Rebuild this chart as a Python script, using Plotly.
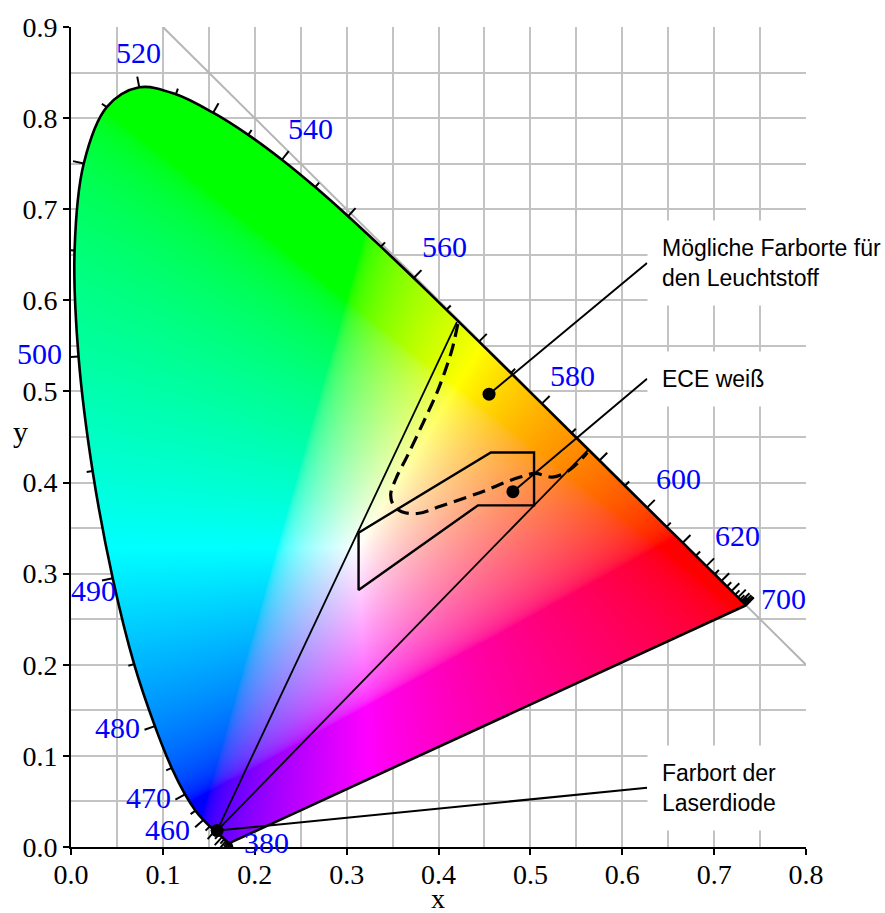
import base64
import struct
import zlib

import numpy as np
import plotly.graph_objects as go

# ---------------------------------------------------------------- data
# CIE 1931 2° spectral locus, 380-700 nm in 5 nm steps
wavelength_nm = list(range(380, 701, 5))
locus_x = [0.1741, 0.1740, 0.1738, 0.1736, 0.1733, 0.1730, 0.1726, 0.1721,
           0.1714, 0.1703, 0.1689, 0.1669, 0.1644, 0.1611, 0.1566, 0.1510,
           0.1440, 0.1355, 0.1241, 0.1096, 0.0913, 0.0687, 0.0454, 0.0235,
           0.0082, 0.0039, 0.0139, 0.0389, 0.0743, 0.1142, 0.1547, 0.1929,
           0.2296, 0.2658, 0.3016, 0.3373, 0.3731, 0.4087, 0.4441, 0.4788,
           0.5125, 0.5448, 0.5752, 0.6029, 0.6270, 0.6482, 0.6658, 0.6801,
           0.6915, 0.7006, 0.7079, 0.7140, 0.7190, 0.7230, 0.7260, 0.7283,
           0.7300, 0.7311, 0.7320, 0.7327, 0.7334, 0.7340, 0.7344, 0.7346,
           0.7347]
locus_y = [0.0050, 0.0050, 0.0049, 0.0049, 0.0048, 0.0048, 0.0048, 0.0048,
           0.0051, 0.0058, 0.0069, 0.0086, 0.0109, 0.0138, 0.0177, 0.0227,
           0.0297, 0.0399, 0.0578, 0.0868, 0.1327, 0.2007, 0.2950, 0.4127,
           0.5384, 0.6548, 0.7502, 0.8120, 0.8338, 0.8262, 0.8059, 0.7816,
           0.7543, 0.7243, 0.6923, 0.6589, 0.6245, 0.5896, 0.5547, 0.5202,
           0.4866, 0.4544, 0.4242, 0.3965, 0.3725, 0.3514, 0.3340, 0.3197,
           0.3083, 0.2993, 0.2920, 0.2859, 0.2809, 0.2770, 0.2740, 0.2717,
           0.2700, 0.2689, 0.2680, 0.2673, 0.2666, 0.2660, 0.2656, 0.2654,
           0.2653]

# wavelength labels along the locus (label centres)
label_nm = [380, 460, 470, 480, 490, 500, 520, 540, 560, 580, 600, 620, 700]
label_x = [0.213, 0.105, 0.084, 0.051, 0.024, -0.034, 0.073, 0.261, 0.406,
           0.546, 0.661, 0.725, 0.776]
label_y = [0.000, 0.014, 0.049, 0.126, 0.276, 0.536, 0.866, 0.783, 0.654,
           0.512, 0.399, 0.336, 0.267]

# blue laser diode and the two lines of the possible mixing fan
laser_x, laser_y = 0.159, 0.018
fan_end_x = [0.420, 0.563]
fan_end_y = [0.576, 0.436]

# ECE white field
ece_x = [0.313, 0.457, 0.504, 0.504, 0.443, 0.313, 0.313]
ece_y = [0.345, 0.433, 0.433, 0.375, 0.375, 0.282, 0.345]

# boundary of the possible phosphor chromaticities (dashed)
phosphor_x = [0.421, 0.415, 0.407, 0.398, 0.383, 0.366, 0.354, 0.348, 0.351,
              0.360, 0.377, 0.402, 0.431, 0.453, 0.472, 0.489, 0.505, 0.524,
              0.540, 0.554, 0.562]
phosphor_y = [0.574, 0.547, 0.522, 0.498, 0.465, 0.429, 0.405, 0.387, 0.375,
              0.368, 0.366, 0.374, 0.384, 0.392, 0.400, 0.406, 0.410, 0.406,
              0.412, 0.424, 0.433]

# marked points
ece_point = (0.481, 0.390)
phosphor_point = (0.455, 0.497)

# callouts: text, leader start, leader end
callout_text = ["Mögliche Farborte für<br>den Leuchtstoff", "ECE weiß",
                "Farbort der<br>Laserdiode"]
callout_from_x = [phosphor_point[0], ece_point[0], laser_x]
callout_from_y = [phosphor_point[1], ece_point[1], laser_y]
callout_to_x = [0.627, 0.627, 0.627]
callout_to_y = [0.641, 0.514, 0.065]

# ---------------------------------------------------------------- geometry
X_RANGE = (0.0, 0.8)
Y_RANGE = (0.0, 0.9)
PLOT_W, PLOT_H = 735, 826
SX = PLOT_W / (X_RANGE[1] - X_RANGE[0])   # px per unit x
SY = PLOT_H / (Y_RANGE[1] - Y_RANGE[0])   # px per unit y


def spline_outline(xs, ys, smoothness=1.0, steps=20):
    """Sample the same Bezier smoothing plotly uses for line.shape='spline'."""
    pts = np.column_stack([np.asarray(xs) * SX, np.asarray(ys) * SY])
    n = len(pts)
    c_in = pts.copy()
    c_out = pts.copy()
    for i in range(1, n - 1):
        d1 = pts[i - 1] - pts[i]
        d2 = pts[i + 1] - pts[i]
        d1a = (d1 @ d1) ** 0.25
        d2a = (d2 @ d2) ** 0.25
        num = (d2a * d2a * d1 - d1a * d1a * d2) * smoothness
        c_in[i] = pts[i] + num / (3 * d2a * (d1a + d2a))
        c_out[i] = pts[i] - num / (3 * d1a * (d1a + d2a))
    t = np.linspace(0, 1, steps + 1)[1:, None]
    out = [pts[:1]]
    out.append((1 - t) ** 2 * pts[0] + 2 * (1 - t) * t * c_in[1] + t ** 2 * pts[1])
    for i in range(2, n - 1):
        p0, a, b, p1 = pts[i - 1], c_out[i - 1], c_in[i], pts[i]
        out.append((1 - t) ** 3 * p0 + 3 * (1 - t) ** 2 * t * a
                   + 3 * (1 - t) * t ** 2 * b + t ** 3 * p1)
    out.append((1 - t) ** 2 * pts[n - 2] + 2 * (1 - t) * t * c_out[n - 2]
               + t ** 2 * pts[n - 1])
    o = np.vstack(out)
    return o[:, 0] / SX, o[:, 1] / SY


def chromaticity_rgb(x, y):
    """xy -> display sRGB, clipped and scaled to full brightness."""
    y = np.maximum(y, 1e-4)
    X = x / y
    Z = (1 - x - y) / y
    r = 3.2406 * X - 1.5372 - 0.4986 * Z
    g = -0.9689 * X + 1.8758 + 0.0415 * Z
    b = 0.0557 * X - 0.2040 + 1.0570 * Z
    rgb = np.clip(np.stack([r, g, b], -1), 0, None)
    rgb /= np.maximum(rgb.max(-1, keepdims=True), 1e-9)
    srgb = np.where(rgb <= 0.0031308, 12.92 * rgb,
                    1.055 * np.power(rgb, 1 / 2.4) - 0.055)
    return (np.clip(srgb, 0, 1) * 255 + 0.5).astype(np.uint8)


def png_uri(rgba):
    h, w, _ = rgba.shape
    raw = b"".join(b"\x00" + rgba[r].tobytes() for r in range(h))

    def chunk(tag, data):
        return (struct.pack(">I", len(data)) + tag + data
                + struct.pack(">I", zlib.crc32(tag + data) & 0xFFFFFFFF))

    png = (b"\x89PNG\r\n\x1a\n"
           + chunk(b"IHDR", struct.pack(">IIBBBBB", w, h, 8, 6, 0, 0, 0))
           + chunk(b"IDAT", zlib.compress(raw, 9))
           + chunk(b"IEND", b""))
    return "data:image/png;base64," + base64.b64encode(png).decode()


# colour fill clipped to the horseshoe
dx = (X_RANGE[1] - X_RANGE[0]) / PLOT_W
dy = (Y_RANGE[1] - Y_RANGE[0]) / PLOT_H
xc = X_RANGE[0] + (np.arange(PLOT_W) + 0.5) * dx
yc = Y_RANGE[0] + (np.arange(PLOT_H) + 0.5) * dy
ox, oy = spline_outline(locus_x, locus_y)
poly = np.column_stack([np.append(ox, ox[0]), np.append(oy, oy[0])])
x1, y1, x2, y2 = poly[:-1, 0], poly[:-1, 1], poly[1:, 0], poly[1:, 1]
mask = np.zeros((PLOT_H, PLOT_W), bool)
for j, yv in enumerate(yc):
    cross = (y1 <= yv) != (y2 <= yv)
    if not cross.any():
        continue
    xi = np.sort(x1[cross] + (yv - y1[cross]) * (x2[cross] - x1[cross])
                 / (y2[cross] - y1[cross]))
    for a, b in zip(xi[0::2], xi[1::2]):
        mask[j] |= (xc >= a) & (xc < b)
gx, gy = np.meshgrid(xc, yc)
rgba = np.zeros((PLOT_H, PLOT_W, 4), np.uint8)
rgba[..., :3] = chromaticity_rgb(gx, gy)
rgba[..., 3] = np.where(mask, 255, 0)

# wavelength ticks, perpendicular to the locus and pointing outwards
px = np.array(locus_x) * SX
py = np.array(locus_y) * SY
tick_x, tick_y = [], []
for i, nm in enumerate(wavelength_nm):
    a = max(i - 1, 0)
    b = min(i + 1, len(px) - 1)
    tx, ty = px[b] - px[a], py[b] - py[a]
    norm = np.hypot(tx, ty)
    nx, ny = -ty / norm, tx / norm
    length = 11 if nm % 10 == 0 else 6
    tick_x += [locus_x[i], locus_x[i] + nx * length / SX, None]
    tick_y += [locus_y[i], locus_y[i] + ny * length / SY, None]


def to_paper(x, y):
    return ((x - X_RANGE[0]) / (X_RANGE[1] - X_RANGE[0]),
            (y - Y_RANGE[0]) / (Y_RANGE[1] - Y_RANGE[0]))


# ---------------------------------------------------------------- figure
fig = go.Figure()

fig.add_trace(go.Image(source=png_uri(rgba), x0=X_RANGE[0] + dx / 2,
                       y0=Y_RANGE[0] + dy / 2, dx=dx, dy=dy, hoverinfo="skip"))

# x + y = 1
fig.add_trace(go.Scatter(x=[0.1, 0.8], y=[0.9, 0.2], mode="lines",
                         line=dict(color="#b5b5b5", width=2), hoverinfo="skip"))

# spectral locus and line of purples
fig.add_trace(go.Scatter(x=locus_x, y=locus_y, mode="lines",
                         line=dict(color="black", width=2.6, shape="spline",
                                   simplify=False), hoverinfo="skip"))
fig.add_trace(go.Scatter(x=[locus_x[-1], locus_x[0]], y=[locus_y[-1], locus_y[0]],
                         mode="lines", line=dict(color="black", width=2.6),
                         hoverinfo="skip"))
fig.add_trace(go.Scatter(x=tick_x, y=tick_y, mode="lines",
                         line=dict(color="black", width=2), hoverinfo="skip"))

# fan from the laser point
for ex, ey in zip(fan_end_x, fan_end_y):
    fig.add_trace(go.Scatter(x=[laser_x, ex], y=[laser_y, ey], mode="lines",
                             line=dict(color="black", width=1.8), hoverinfo="skip"))

# ECE white field
fig.add_trace(go.Scatter(x=ece_x, y=ece_y, mode="lines",
                         line=dict(color="black", width=2.4), hoverinfo="skip"))

# possible phosphor chromaticities
fig.add_trace(go.Scatter(x=phosphor_x, y=phosphor_y, mode="lines",
                         line=dict(color="black", width=3.2, dash="13px,7px",
                                   shape="spline"), hoverinfo="skip"))

# callout leaders
for fx, fy, tx_, ty_ in zip(callout_from_x, callout_from_y, callout_to_x, callout_to_y):
    fig.add_trace(go.Scatter(x=[fx, tx_], y=[fy, ty_], mode="lines",
                             line=dict(color="black", width=2), hoverinfo="skip"))

fig.add_trace(go.Scatter(x=[phosphor_point[0], ece_point[0], laser_x],
                         y=[phosphor_point[1], ece_point[1], laser_y],
                         mode="markers", marker=dict(color="black", size=13),
                         hoverinfo="skip"))

annotations = []
for nm, lx, ly in zip(label_nm, label_x, label_y):
    # paper coordinates so labels beside the axes are still drawn
    ax_, ay_ = to_paper(lx, ly)
    annotations.append(dict(x=ax_, y=ay_, xref="paper", yref="paper", text=str(nm),
                            showarrow=False, xanchor="center", yanchor="middle",
                            yshift=5,
                            font=dict(family="Liberation Serif", size=30,
                                      color="#0000ff")))

callout_width = [None, 140, 140]
for txt, ty_, w in zip(callout_text, callout_to_y, callout_width):
    ann = dict(x=callout_to_x[0], y=ty_, xref="x", yref="y", text=txt,
               showarrow=False, xanchor="left", yanchor="middle", align="left",
               bgcolor="white", borderpad=14,
               font=dict(family="Liberation Sans", size=23, color="black"))
    if w:
        ann["width"] = w
    annotations.append(ann)

tx_paper, ty_paper = to_paper(0.3995, -0.0565)
annotations.append(dict(x=tx_paper, y=ty_paper, xref="paper", yref="paper", text="x",
                        showarrow=False, xanchor="center", yanchor="middle",
                        font=dict(family="Liberation Serif", size=28, color="black")))
tx_paper, ty_paper = to_paper(-0.0555, 0.456)
annotations.append(dict(x=tx_paper, y=ty_paper, xref="paper", yref="paper", text="y",
                        showarrow=False, xanchor="center", yanchor="middle",
                        font=dict(family="Liberation Serif", size=30, color="black")))

axis_style = dict(
    showgrid=True, gridcolor="#c3c3c3", gridwidth=1.5,
    minor=dict(dtick=0.05, showgrid=True, gridcolor="#c3c3c3", gridwidth=1.5),
    dtick=0.1, tick0=0, tickformat=".1f",
    ticks="outside", ticklen=6, tickwidth=2, tickcolor="black",
    showline=True, linecolor="black", linewidth=2, zeroline=False,
    tickfont=dict(family="Liberation Serif", size=28, color="black"),
    fixedrange=True,
)

fig.update_layout(
    width=885, height=913,
    margin=dict(l=71, r=79, t=21, b=66),
    paper_bgcolor="white", plot_bgcolor="white",
    showlegend=False,
    xaxis=dict(range=list(X_RANGE), autorange=False, ticklabelstandoff=-5,
               **axis_style),
    yaxis=dict(range=list(Y_RANGE), autorange=False, scaleanchor=False, **axis_style),
    annotations=annotations,
)

fig.write_html("out.html")
